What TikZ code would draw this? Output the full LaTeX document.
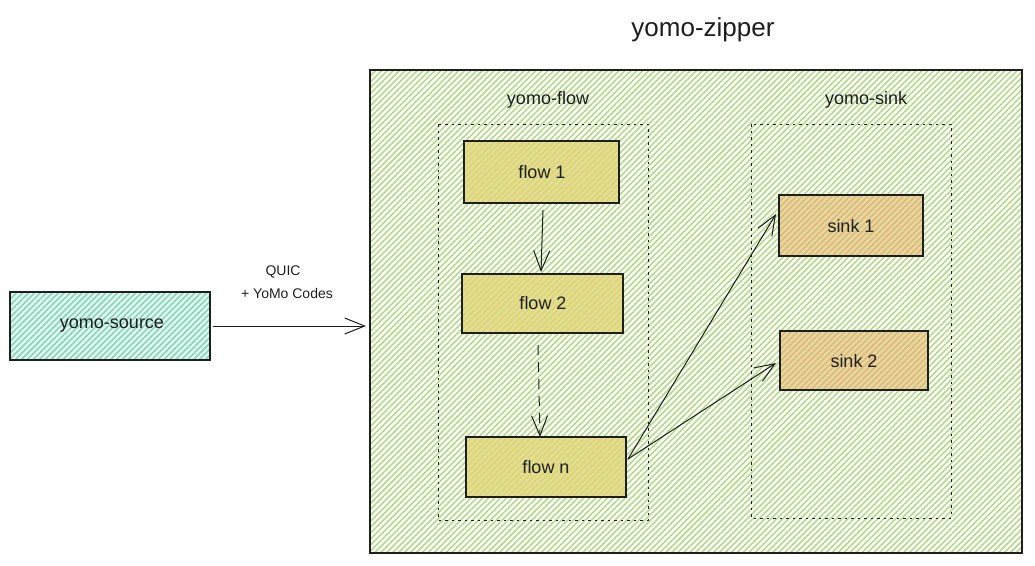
\documentclass[tikz,border=0pt]{standalone}
\usepackage{fontspec}
\setmainfont{Liberation Sans}
\usetikzlibrary{patterns.meta,arrows.meta}
\definecolor{zipline}{HTML}{B4DA88}
\definecolor{srcline}{HTML}{86D6BE}
\definecolor{srcfill}{HTML}{E4F6F0}
\definecolor{flowfill}{HTML}{D4E49A}
\definecolor{flowline}{HTML}{F0CC6A}
\definecolor{sinkfill}{HTML}{D6E29C}
\definecolor{sinkline}{HTML}{F5AD80}
\definecolor{ink}{HTML}{1E1E1E}
\tikzset{
  x=1pt,y=-1pt,
  hatch/.style n args={2}{preaction={fill=#1},pattern={Lines[angle=45,distance=4.2pt,line width=1.6pt]},pattern color=#2},
  zipbox/.style={draw=ink,line width=1.1pt,hatch={white}{zipline}},
  srcbox/.style={draw=ink,line width=1.1pt,hatch={srcfill}{srcline}},
  flowbox/.style={draw=ink,line width=1.1pt,hatch={flowfill}{flowline}},
  sinkbox/.style={draw=ink,line width=1.1pt,hatch={sinkfill}{sinkline}},
  group/.style={draw=ink,line width=0.9pt,dash pattern=on 2.5pt off 4pt},
  lbl/.style={text=ink,font=\fontsize{18}{21}\selectfont},
  small/.style={text=ink,font=\fontsize{14}{17}\selectfont},
  conn/.style={draw=ink,line width=1pt,-{Straight Barb[length=20pt,width=16pt,line width=1pt]}},
}
\begin{document}
\begin{tikzpicture}
\useasboundingbox (0,0) rectangle (1035,565);
% zipper
\draw[zipbox] (370,70) rectangle (1022,553);
\node[lbl,font=\fontsize{26}{30}\selectfont] (ziplabel) at (703,30) {yomo-zipper};
% source
\draw[srcbox] (10,292) rectangle (210,360);
\node[lbl] (src) at (112,326) {yomo-source};
\coordinate (srcE) at (213,326);
\coordinate (zipW) at (366,326);
\draw[conn] (srcE) -- (zipW);
\node[small] (quic) at (283,272) {QUIC};
\node[small] (codes) at (287,293) {+ YoMo Codes};
% flow group
\draw[group] (438,124) rectangle (648,520);
\node[lbl] (flowlabel) at (548,100) {yomo-flow};
\draw[flowbox] (464,141) rectangle (619,203);
\node[lbl] (f1) at (542,172) {flow 1};
\draw[flowbox] (462,274) rectangle (623,333);
\node[lbl] (f2) at (543,303) {flow 2};
\draw[flowbox] (466,437) rectangle (626,497);
\node[lbl] (fn) at (546,467) {flow n};
\coordinate (f1S) at (543,210);
\coordinate (f2N) at (541,272);
\coordinate (f2S) at (538,345);
\coordinate (fnN) at (540,437);
\draw[conn] (f1S) -- (f2N);
\draw[conn,dash pattern=on 10pt off 7pt] (f2S) -- (fnN);
% sink group
\draw[group] (751,124) rectangle (951,518);
\node[lbl] (sinklabel) at (866,100) {yomo-sink};
\draw[sinkbox] (779,195) rectangle (923,256);
\node[lbl] (s1) at (851,226) {sink 1};
\draw[sinkbox] (780,331) rectangle (928,390);
\node[lbl] (s2) at (854,361) {sink 2};
\coordinate (fnE) at (628,459);
\coordinate (s1W) at (776,214);
\coordinate (s2W) at (776,363);
\draw[conn] (fnE) -- (s1W);
\draw[conn] (fnE) -- (s2W);
\end{tikzpicture}
\end{document}
